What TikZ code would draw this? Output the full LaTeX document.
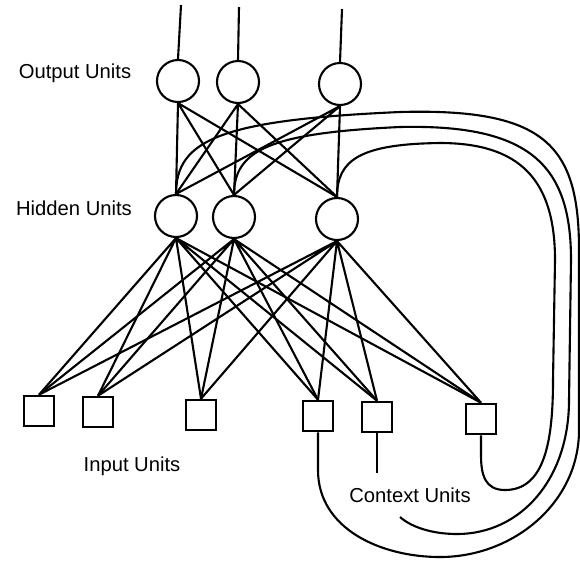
\documentclass[tikz,border=0pt]{standalone}
\usepackage{fontspec}
\setmainfont{Liberation Sans}
\usepackage{tikz}

\tikzset{
	unit/.style={circle, draw, line width=1.2pt, minimum size=8.4mm, inner sep=0pt},
	cell/.style={rectangle, draw, line width=1.2pt, minimum size=6.1mm, inner sep=0pt},
	link/.style={line width=1.2pt},
	layername/.style={font=\fontsize{11.5}{13}\selectfont, inner sep=0pt},
}

\begin{document}
\begin{tikzpicture}[x=0.2mm, y=-0.2mm]
		\useasboundingbox (0,0) rectangle (580,560);

		% --- Output layer ---
		\node[unit] (o1) at (178, 81) {};
		\node[unit] (o2) at (238, 82) {};
		\node[unit] (o3) at (340, 84) {};
		\coordinate (t1) at (181, 5);
		\coordinate (t2) at (239, 7);
		\coordinate (t3) at (342, 9);

		% --- Hidden layer ---
		\node[unit] (h1) at (176, 216) {};
		\node[unit] (h2) at (234, 217) {};
		\node[unit] (h3) at (337, 219) {};

		% --- Input and context cells ---
		\node[cell] (in1) at (39, 411) {};
		\node[cell] (in2) at (98, 412) {};
		\node[cell] (in3) at (201, 415) {};
		\node[cell] (in4) at (318, 416) {};
		\node[cell] (in5) at (377, 417) {};
		\node[cell] (in6) at (481, 419) {};

		% --- Layer names ---
		\node[layername] (outname) at (75, 73) {Output Units};
		\node[layername] (hidname) at (74, 208) {Hidden Units};
		\node[layername] (inname) at (132, 466) {Input Units};
		\node[layername] (ctxname) at (410, 495) {Context Units};

		% --- Output lines ---
		\draw[link] (t1) -- (o1.north);
		\draw[link] (t2) -- (o2.north);
		\draw[link] (t3) -- (o3.north);

		% --- Hidden to output weights ---
		\draw[link] (o1.south) -- (h1.north) (o1.south) -- (h2.north) (o1.south) -- (h3.north);
		\draw[link] (o2.south) -- (h1.north) (o2.south) -- (h2.north) (o2.south) -- (h3.north);
		\draw[link] (o3.south) -- (h1.north) (o3.south) -- (h2.north) (o3.south) -- (h3.north);

		% --- Input and context to hidden weights ---
		\draw[link] (h1.south) -- (in1.north) (h1.south) -- (in2.north) (h1.south) -- (in3.north)
			(h1.south) -- (in4.north) (h1.south) -- (in5.north) (h1.south) -- (in6.north);
		\draw[link] (h2.south) -- (in1.north) (h2.south) -- (in2.north) (h2.south) -- (in3.north)
			(h2.south) -- (in4.north) (h2.south) -- (in5.north) (h2.south) -- (in6.north);
		\draw[link] (h3.south) -- (in1.north) (h3.south) -- (in2.north) (h3.south) -- (in3.north)
			(h3.south) -- (in4.north) (h3.south) -- (in5.north) (h3.south) -- (in6.north);

		% --- Copy-back loops (hidden -> context) ---
		\coordinate (c5top) at (377, 473);
		\coordinate (c5end) at (400, 517);
		\draw[link] (h1.north) .. controls (176, 140) and (220, 120) .. (400, 112)
			.. controls (545, 108) and (579, 145) .. (579, 250) -- (579, 430)
			.. controls (579, 503) and (513, 557) .. (440, 557)
			.. controls (381, 557) and (318, 529) .. (318, 470) -- (in4.south);
		\draw[link] (h2.north) .. controls (234, 150) and (270, 133) .. (400, 127)
			.. controls (530, 124) and (571, 165) .. (571, 260) -- (569, 400)
			.. controls (569, 480) and (520, 534) .. (457, 534)
			.. controls (430, 534) and (410, 526) .. (c5end);
		\draw[link] (in5.south) -- (c5top);
		\draw[link] (h3.north) .. controls (337, 160) and (360, 144) .. (440, 143)
			.. controls (520, 143) and (555, 180) .. (555, 260) -- (553, 380)
			.. controls (553, 440) and (545, 490) .. (505, 490)
			.. controls (485, 490) and (481, 475) .. (481, 455) -- (in6.south);
	\end{tikzpicture}
\end{document}
